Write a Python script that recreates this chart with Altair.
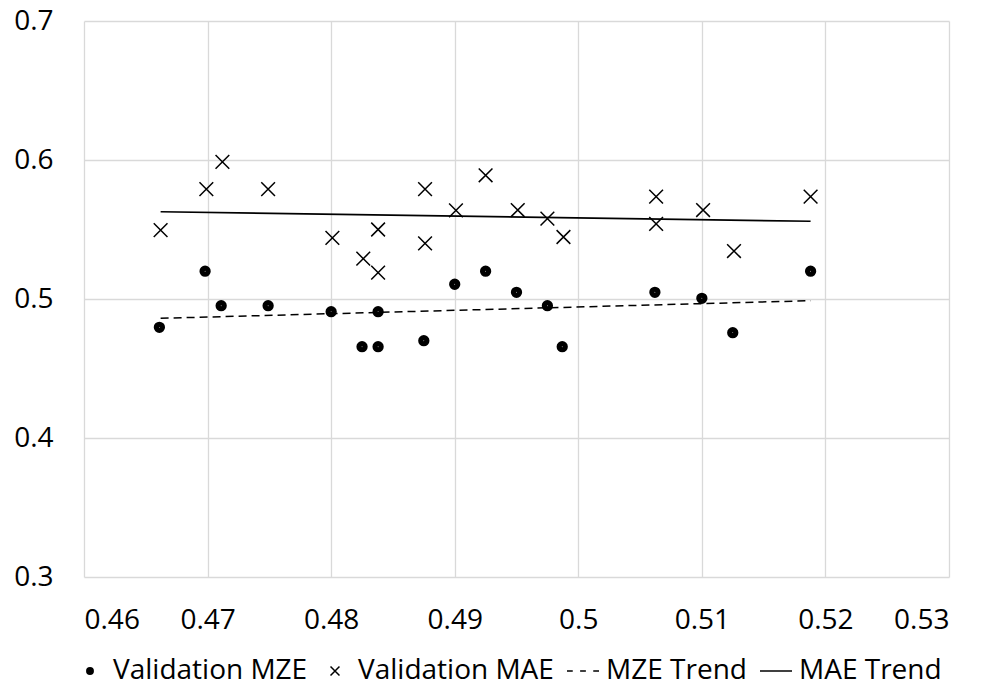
import altair as alt
import pandas as pd

# ---- data ----
mze_x = [0.4661, 0.4698, 0.4711, 0.4749, 0.4800, 0.4825, 0.4838, 0.4838, 0.4875,
         0.4900, 0.4925, 0.4950, 0.4975, 0.4987, 0.5062, 0.5100, 0.5125, 0.5188]
mze_y = [0.4796, 0.520, 0.4952, 0.4952, 0.4909, 0.4657, 0.4657, 0.4909, 0.470,
         0.5106, 0.520, 0.5048, 0.4952, 0.4657, 0.5048, 0.5005, 0.4758, 0.520]

mae_x = [0.4662, 0.4699, 0.4712, 0.4749, 0.4801, 0.4826, 0.4838, 0.4838, 0.4876, 0.4876,
         0.4901, 0.4925, 0.4951, 0.4975, 0.4988, 0.5063, 0.5063, 0.5101, 0.5126, 0.5188]
mae_y = [0.5496, 0.579, 0.5986, 0.579, 0.544, 0.529, 0.550, 0.519, 0.579, 0.540,
         0.5638, 0.589, 0.564, 0.5578, 0.5446, 0.5736, 0.554, 0.564, 0.5345, 0.5736]

trend_x = [0.4662, 0.5188]
mze_trend = [0.4861, 0.4988]
mae_trend = [0.5628, 0.5559]

series = ["Validation MZE", "Validation MAE", "MZE Trend", "MAE Trend"]
x_ticks = [0.46, 0.47, 0.48, 0.49, 0.50, 0.51, 0.52, 0.53]
y_ticks = [0.3, 0.4, 0.5, 0.6, 0.7]

# ---- tables ----
points = pd.DataFrame({
    "x": mze_x + mae_x,
    "y": mze_y + mae_y,
    "series": [series[0]] * len(mze_x) + [series[1]] * len(mae_x),
})
trend_mze = pd.DataFrame({"x": trend_x, "y": mze_trend})
trend_mae = pd.DataFrame({"x": trend_x, "y": mae_trend})


def ring(r):
    return f"M-{r},0A{r},{r},0,1,1,{r},0A{r},{r},0,1,1,-{r},0Z"


# solid dot drawn as concentric stroked rings (stays solid in legend too)
dot_path = "".join(ring(r) for r in (0.2, 0.15, 0.1, 0.05, 0.012))
rx = 0.28
cross_path = f"M-{rx},-{rx}L{rx},{rx}M{rx},-{rx}L-{rx},{rx}"
dash_path = "M-1,0L-0.64,0M-0.18,0L0.18,0M0.64,0L1,0"
line_path = "M-1,0L1,0"

xs = alt.Scale(domain=[0.46, 0.53], nice=False, zero=False)
ys = alt.Scale(domain=[0.3, 0.7], nice=False, zero=False)
xax = alt.Axis(values=x_ticks, format=".2~f", title=None)
yax = alt.Axis(values=y_ticks, format=".1f", title=None)

pts = alt.Chart(points).mark_point(
    filled=False, color="black", strokeWidth=1.5, size=2400, opacity=1
).encode(
    x=alt.X("x:Q", scale=xs, axis=xax),
    y=alt.Y("y:Q", scale=ys, axis=yax),
    shape=alt.Shape(
        "series:N",
        scale=alt.Scale(domain=series, range=[dot_path, cross_path, dash_path, line_path]),
        legend=alt.Legend(
            title=None, orient="none", direction="horizontal", columns=4,
            legendX=-11, legendY=633, labelLimit=0,
        ),
    ),
)

line_mze = alt.Chart(trend_mze).mark_line(
    color="black", strokeWidth=1.5, strokeDash=[8, 5]
).encode(x=alt.X("x:Q", scale=xs), y=alt.Y("y:Q", scale=ys))

line_mae = alt.Chart(trend_mae).mark_line(
    color="black", strokeWidth=1.6
).encode(x=alt.X("x:Q", scale=xs), y=alt.Y("y:Q", scale=ys))

chart = alt.layer(line_mze, line_mae, pts).properties(
    width=865, height=556,
    autosize=alt.AutoSizeParams(type="none"),
    padding={"left": 84, "top": 21, "right": 33, "bottom": 111},
    background="white",
).configure_view(stroke=None).configure_axis(
    grid=True, gridColor="#d9d9d9", gridWidth=1.3,
    domain=False, ticks=False,
    labelFont="Open Sans", labelFontSize=28, labelColor="black",
).configure_axisX(labelPadding=29).configure_axisY(labelPadding=31).configure_legend(
    labelFont="Open Sans", labelFontSize=28, labelColor="black",
    symbolSize=1024, symbolStrokeColor="black",
    symbolStrokeWidth=1.5, labelOffset=6, columnPadding=10, padding=0,
    symbolOpacity=1, labelLimit=0,
)

chart.save("out.html", embed_options={"renderer": "svg", "actions": False})
